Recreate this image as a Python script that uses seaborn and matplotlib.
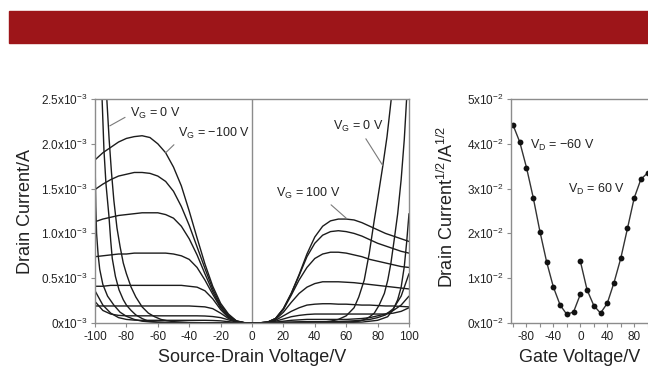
import numpy as np
import pandas as pd
import matplotlib
matplotlib.use("Agg")
import matplotlib.pyplot as plt
from matplotlib.patches import Rectangle
import seaborn as sns

# ---------------- data (drain current in units of 1e-3 A) ----------------
VD_NEG = [-100, -95, -90, -85, -80, -75, -70, -65, -60, -55, -50, -45, -40, -35, -30, -25, -20, -15, -10, -5, 0]
ID_VG_M100 = [1.82, 1.90, 1.96, 2.02, 2.06, 2.08, 2.09, 2.07, 2.00, 1.90, 1.74, 1.53, 1.25, 0.95, 0.66, 0.41, 0.22, 0.10, 0.025, 0.004, 0.0]
ID_VG_M90 = [1.49, 1.55, 1.60, 1.64, 1.66, 1.68, 1.68, 1.67, 1.64, 1.58, 1.47, 1.30, 1.09, 0.85, 0.61, 0.38, 0.20, 0.09, 0.022, 0.004, 0.0]
ID_VG_M80 = [1.13, 1.16, 1.18, 1.20, 1.21, 1.22, 1.23, 1.23, 1.23, 1.21, 1.17, 1.08, 0.94, 0.76, 0.55, 0.35, 0.18, 0.08, 0.02, 0.003, 0.0]
ID_VG_M70 = [0.74, 0.75, 0.76, 0.77, 0.77, 0.78, 0.78, 0.78, 0.78, 0.78, 0.77, 0.75, 0.71, 0.62, 0.48, 0.32, 0.17, 0.07, 0.018, 0.003, 0.0]
ID_VG_M60 = [0.41, 0.41, 0.42, 0.42, 0.42, 0.42, 0.42, 0.42, 0.42, 0.42, 0.42, 0.42, 0.41, 0.40, 0.36, 0.27, 0.15, 0.06, 0.016, 0.003, 0.0]
ID_VG_M50 = [0.19, 0.19, 0.19, 0.19, 0.19, 0.19, 0.19, 0.19, 0.19, 0.19, 0.19, 0.19, 0.19, 0.185, 0.18, 0.16, 0.11, 0.05, 0.014, 0.002, 0.0]
ID_VG_M40 = [0.24, 0.14, 0.10, 0.085, 0.08, 0.08, 0.08, 0.08, 0.08, 0.08, 0.08, 0.08, 0.08, 0.08, 0.078, 0.072, 0.06, 0.035, 0.01, 0.002, 0.0]
ID_VG_M30 = [0.36, 0.20, 0.11, 0.06, 0.04, 0.032, 0.03, 0.03, 0.03, 0.03, 0.03, 0.03, 0.03, 0.03, 0.03, 0.028, 0.024, 0.015, 0.006, 0.001, 0.0]

VD_VG_M20 = [-100, -99.5, -99, -98, -97, -95, -92, -88, -84, -80, -75, -70, -65, -60, -50, -40, -30, -20, -10, 0]
ID_VG_M20 = [1.85, 1.30, 1.00, 0.76, 0.60, 0.43, 0.30, 0.20, 0.12, 0.075, 0.04, 0.02, 0.012, 0.008, 0.004, 0.003, 0.003, 0.002, 0.001, 0.0]
VD_VG_M10 = [-96.0, -94.3, -93, -91.1, -90, -89, -87, -84.7, -82, -80, -77, -74, -70, -66, -60, -50, -40, -30, -20, -10, 0]
ID_VG_M10 = [2.75, 1.93, 1.55, 1.19, 0.92, 0.72, 0.52, 0.37, 0.26, 0.20, 0.14, 0.09, 0.05, 0.02, 0.01, 0.005, 0.003, 0.002, 0.001, 0.0005, 0.0]
VD_VG_0N = [-93.3, -91, -89.5, -88, -86, -84, -82, -80, -77, -74, -70, -66, -62, -58, -54, -50, -40, -30, -20, -10, 0]
ID_VG_0N = [2.75, 2.05, 1.68, 1.37, 1.06, 0.85, 0.67, 0.55, 0.40, 0.29, 0.18, 0.11, 0.07, 0.04, 0.025, 0.015, 0.006, 0.003, 0.001, 0.0005, 0.0]

VD_POS = [0, 5, 10, 15, 20, 25, 30, 35, 40, 45, 50, 55, 60, 65, 70, 75, 80, 85, 90, 95, 100]
ID_VG_100 = [0.0, 0.002, 0.01, 0.05, 0.16, 0.33, 0.54, 0.77, 0.96, 1.08, 1.14, 1.16, 1.16, 1.15, 1.12, 1.08, 1.04, 1.00, 0.97, 0.94, 0.91]
ID_VG_90 = [0.0, 0.002, 0.01, 0.05, 0.16, 0.33, 0.53, 0.74, 0.89, 0.98, 1.02, 1.03, 1.02, 1.00, 0.97, 0.93, 0.89, 0.86, 0.83, 0.80, 0.78]
ID_VG_80 = [0.0, 0.002, 0.01, 0.05, 0.15, 0.31, 0.48, 0.62, 0.72, 0.77, 0.79, 0.79, 0.78, 0.76, 0.74, 0.71, 0.69, 0.67, 0.65, 0.63, 0.62]
ID_VG_70 = [0.0, 0.002, 0.01, 0.04, 0.12, 0.23, 0.33, 0.40, 0.44, 0.46, 0.46, 0.46, 0.455, 0.45, 0.44, 0.43, 0.42, 0.41, 0.40, 0.39, 0.38]
ID_VG_60 = [0.0, 0.002, 0.008, 0.03, 0.08, 0.13, 0.17, 0.20, 0.21, 0.215, 0.215, 0.21, 0.21, 0.205, 0.20, 0.20, 0.195, 0.19, 0.19, 0.185, 0.18]
ID_VG_50 = [0.0, 0.002, 0.006, 0.02, 0.045, 0.07, 0.085, 0.095, 0.10, 0.10, 0.10, 0.10, 0.10, 0.10, 0.10, 0.10, 0.10, 0.10, 0.11, 0.13, 0.17]
ID_VG_40 = [0.0, 0.001, 0.004, 0.01, 0.02, 0.03, 0.035, 0.04, 0.04, 0.04, 0.04, 0.04, 0.04, 0.045, 0.05, 0.06, 0.08, 0.10, 0.14, 0.20, 0.30]
ID_VG_30 = [0.0, 0.001, 0.003, 0.006, 0.01, 0.012, 0.014, 0.015, 0.015, 0.015, 0.016, 0.017, 0.02, 0.025, 0.03, 0.04, 0.06, 0.09, 0.16, 0.30, 0.55]

VD_VG_20 = [0, 10, 20, 30, 40, 50, 60, 70, 80, 86.4, 90, 92.8, 95, 97, 98.5, 100]
ID_VG_20 = [0.0, 0.002, 0.003, 0.004, 0.004, 0.005, 0.006, 0.01, 0.03, 0.07, 0.15, 0.26, 0.40, 0.63, 0.90, 1.22]
VD_VG_10 = [0, 10, 20, 30, 40, 50, 60, 65, 68, 72, 75, 77.9, 81, 84.3, 86.5, 88.5, 90.5, 92.8, 95, 97, 99.3]
ID_VG_10 = [0.0, 0.002, 0.002, 0.003, 0.004, 0.006, 0.01, 0.015, 0.02, 0.04, 0.07, 0.11, 0.20, 0.33, 0.48, 0.67, 0.92, 1.22, 1.60, 2.05, 2.75]
VD_VG_0P = [0, 10, 20, 30, 40, 45, 50, 55, 60, 65, 68, 71.5, 74.7, 77.9, 80, 83.2, 86, 90.3]
ID_VG_0P = [0.0, 0.002, 0.003, 0.004, 0.006, 0.01, 0.02, 0.04, 0.08, 0.17, 0.29, 0.48, 0.78, 1.15, 1.38, 1.74, 2.08, 2.75]

# transfer characteristics (sqrt of drain current, units of 1e-2 A^1/2)
VG_SWEEP_NEG = [-100, -90, -80, -70, -60, -50, -40, -30, -20, -10, 0]
SQRT_ID_VD_M60 = [4.42, 4.04, 3.47, 2.80, 2.04, 1.36, 0.80, 0.40, 0.19, 0.25, 0.64]
VG_SWEEP_POS = [0, 10, 20, 30, 40, 50, 60, 70, 80, 90, 100]
SQRT_ID_VD_60 = [1.38, 0.74, 0.39, 0.22, 0.44, 0.90, 1.44, 2.11, 2.79, 3.21, 3.35]

LEFT_XTICKS = [-100, -80, -60, -40, -20, 0, 20, 40, 60, 80, 100]
LEFT_YTICKS = [0, 0.5, 1.0, 1.5, 2.0, 2.5]
LEFT_YTICKLABELS = ["0x10$^{-3}$", "0.5x10$^{-3}$", "1.0x10$^{-3}$", "1.5x10$^{-3}$", "2.0x10$^{-3}$", "2.5x10$^{-3}$"]
RIGHT_XTICKS = [-80, -40, 0, 40, 80]
RIGHT_XMINOR = [-100, -60, -20, 20, 60, 100]
RIGHT_YTICKS = [0, 1, 2, 3, 4, 5]
RIGHT_YTICKLABELS = ["0x10$^{-2}$", "1x10$^{-2}$", "2x10$^{-2}$", "3x10$^{-2}$", "4x10$^{-2}$", "5x10$^{-2}$"]

# ---------------- style ----------------
sns.set_style("ticks")
plt.rcParams["font.family"] = ["Liberation Sans", "DejaVu Sans"]
plt.rcParams["mathtext.fontset"] = "custom"
plt.rcParams["mathtext.rm"] = "Liberation Sans"
plt.rcParams["mathtext.it"] = "Liberation Sans:italic"
plt.rcParams["mathtext.bf"] = "Liberation Sans:bold"
plt.rcParams["axes.unicode_minus"] = False

LINE = "#1c1c1c"
SPINE = "#8c8c8c"
TXT = "#222222"

W, H = 648, 371
fig = plt.figure(figsize=(W / 100, H / 100), dpi=100)
fig.patch.set_facecolor("white")
fig.patches.append(Rectangle((9 / W, (H - 43) / H), 640 / W, 32 / H,
                             transform=fig.transFigure, color="#9d1519", zorder=0))

ax1 = fig.add_axes([95 / W, (H - 323) / H, 314 / W, 224 / H])
ax2 = fig.add_axes([511 / W, (H - 323) / H, 138 / W, 224 / H])

# ---------------- output characteristics ----------------
curves = {
    "m100": (VD_NEG, ID_VG_M100), "m90": (VD_NEG, ID_VG_M90), "m80": (VD_NEG, ID_VG_M80),
    "m70": (VD_NEG, ID_VG_M70), "m60": (VD_NEG, ID_VG_M60), "m50": (VD_NEG, ID_VG_M50),
    "m40": (VD_NEG, ID_VG_M40), "m30": (VD_NEG, ID_VG_M30), "m20": (VD_VG_M20, ID_VG_M20),
    "m10": (VD_VG_M10, ID_VG_M10), "0n": (VD_VG_0N, ID_VG_0N),
    "p100": (VD_POS, ID_VG_100), "p90": (VD_POS, ID_VG_90), "p80": (VD_POS, ID_VG_80),
    "p70": (VD_POS, ID_VG_70), "p60": (VD_POS, ID_VG_60), "p50": (VD_POS, ID_VG_50),
    "p40": (VD_POS, ID_VG_40), "p30": (VD_POS, ID_VG_30), "p20": (VD_VG_20, ID_VG_20),
    "p10": (VD_VG_10, ID_VG_10), "0p": (VD_VG_0P, ID_VG_0P),
}
rows = []
for name, (xs, ys) in curves.items():
    for x, y in zip(xs, ys):
        rows.append({"curve": name, "vd": x, "id": y})
df_out = pd.DataFrame(rows)

sns.lineplot(data=df_out, x="vd", y="id", units="curve", estimator=None, sort=False,
             color=LINE, lw=1.0, ax=ax1, legend=False)
ax1.axvline(0, color=SPINE, lw=1.0, zorder=0)

ax1.set_xlim(-100, 100)
ax1.set_ylim(0, 2.5)
ax1.set_xticks(LEFT_XTICKS)
ax1.set_xticklabels([str(v) for v in LEFT_XTICKS])
ax1.set_yticks(LEFT_YTICKS)
ax1.set_yticklabels(LEFT_YTICKLABELS)
ax1.set_xlabel("")
ax1.set_ylabel("")

ann_kw = dict(fontsize=9, color=TXT, va="center", ha="left")
lead = dict(arrowstyle="-", color="#7a7a7a", lw=0.8, shrinkA=1, shrinkB=0)
ax1.annotate("V$_\\mathrm{G}$ = 0 V", xy=(-90.6, 2.20), xytext=(-78, 2.34),
             arrowprops=dict(lead, relpos=(0, 0.4)), **ann_kw)
ax1.annotate("V$_\\mathrm{G}$ = \u2212100 V", xy=(-55, 1.90), xytext=(-47, 2.12),
             arrowprops=dict(lead, relpos=(0.0, 0.0)), **ann_kw)
ax1.annotate("V$_\\mathrm{G}$ = 0 V", xy=(83.2, 1.76), xytext=(51.4, 2.19),
             arrowprops=dict(lead, relpos=(0.6, 0.0)), **ann_kw)
ax1.annotate("V$_\\mathrm{G}$ = 100 V", xy=(60, 1.17), xytext=(15.3, 1.45),
             arrowprops=dict(lead, relpos=(0.78, 0.0)), **ann_kw)

# ---------------- transfer characteristics ----------------
df_neg = pd.DataFrame({"vg": VG_SWEEP_NEG, "s": SQRT_ID_VD_M60})
df_pos = pd.DataFrame({"vg": VG_SWEEP_POS, "s": SQRT_ID_VD_60})
for d in (df_neg, df_pos):
    sns.lineplot(data=d, x="vg", y="s", estimator=None, sort=False, color="#333333",
                 lw=1.0, marker="o", markersize=4.2, markeredgewidth=0,
                 markerfacecolor="#111111", ax=ax2, legend=False)

ax2.set_xlim(-103, 102)
ax2.set_ylim(0, 5)
ax2.set_xticks(RIGHT_XTICKS)
ax2.set_xticklabels([str(v) for v in RIGHT_XTICKS])
ax2.set_xticks(RIGHT_XMINOR, minor=True)
ax2.set_yticks(RIGHT_YTICKS)
ax2.set_yticklabels(RIGHT_YTICKLABELS)
ax2.set_xlabel("")
ax2.set_ylabel("")
ax2.text(-75, 3.97, "V$_\\mathrm{D}$ = \u221260 V", **ann_kw)
ax2.text(-18, 2.97, "V$_\\mathrm{D}$ = 60 V", **ann_kw)

for ax in (ax1, ax2):
    for sp in ax.spines.values():
        sp.set_visible(True)
        sp.set_color(SPINE)
        sp.set_linewidth(1.0)
    ax.tick_params(which="both", direction="out", length=3, width=0.8, color=SPINE,
                   labelsize=8.5, labelcolor=TXT, pad=2.5)
    ax.set_facecolor("white")

# axis titles
fig.text(26 / W, (H - 211) / H, "Drain Current/A", rotation=90, ha="center", va="center",
         fontsize=13, color=TXT)
fig.text(252 / W, (H - 358) / H, "Source-Drain Voltage/V", ha="center", va="center",
         fontsize=13, color=TXT)
fig.text(447 / W, (H - 207) / H, "Drain Current$^{1/2}$/A$^{1/2}$", rotation=90,
         ha="center", va="center", fontsize=13, color=TXT)
fig.text(580 / W, (H - 358) / H, "Gate Voltage/V", ha="center", va="center",
         fontsize=13, color=TXT)

fig.savefig("out.png", dpi=100)
